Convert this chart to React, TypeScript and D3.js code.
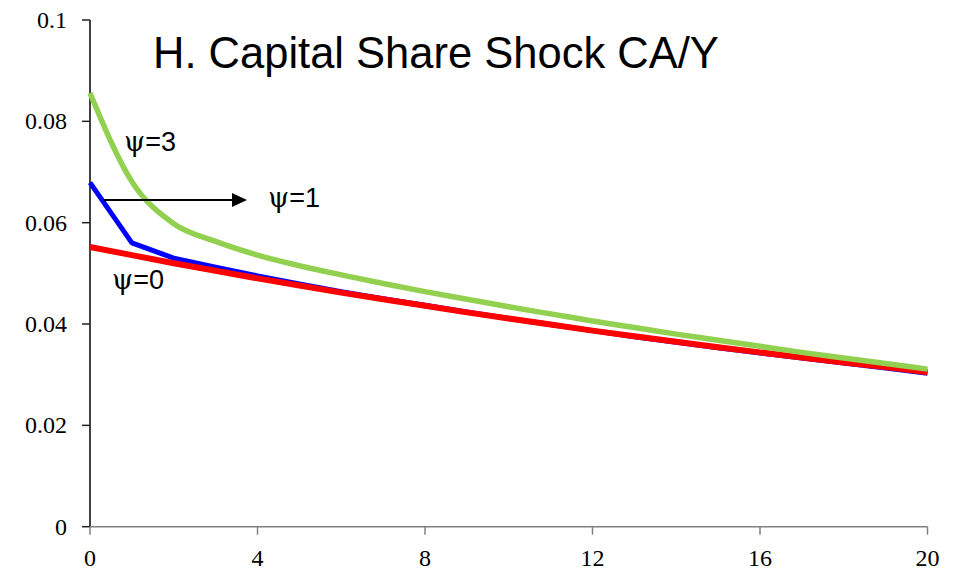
import React from "react";
import * as d3 from "d3";

const periods = [0, 1, 2, 3, 4, 5, 6, 7, 8, 9, 10, 11, 12, 13, 14, 15, 16, 17, 18, 19, 20];
const psi0 = [0.0552, 0.0536, 0.0520, 0.0505, 0.0490, 0.0476, 0.0462, 0.0449, 0.0436, 0.0423, 0.0411, 0.0399, 0.0387, 0.0376, 0.0365, 0.0354, 0.0344, 0.0334, 0.0324, 0.0315, 0.0305];
const psi1 = [0.0679, 0.0560, 0.0530, 0.0512, 0.0495, 0.0479, 0.0464, 0.0450, 0.0437, 0.0424, 0.0411, 0.0399, 0.0387, 0.0375, 0.0364, 0.0353, 0.0343, 0.0333, 0.0323, 0.0313, 0.0303];
const psi3 = [0.0856, 0.0681, 0.0598, 0.0563, 0.0536, 0.0515, 0.0497, 0.0480, 0.0464, 0.0449, 0.0434, 0.0420, 0.0406, 0.0393, 0.0380, 0.0368, 0.0356, 0.0344, 0.0333, 0.0322, 0.0311];
const xTicks = [0, 4, 8, 12, 16, 20];
const yTicks = [0, 0.02, 0.04, 0.06, 0.08, 0.1];
const yTickLabels = ["0", "0.02", "0.04", "0.06", "0.08", "0.1"];
const title = "H. Capital Share Shock CA/Y";

export default function App() {
  const W = 958, H = 570;
  const x = d3.scaleLinear().domain([0, 20]).range([90, 927.5]);
  const y = d3.scaleLinear().domain([0, 0.1]).range([526.7, 20]);
  const line = (vals: number[], curve: d3.CurveFactory) =>
    d3.line<number>().x((_, i) => x(periods[i])).y((v) => y(v)).curve(curve)(vals) || "";
  const serif = '"DejaVu Serif", "Liberation Serif", "Times New Roman", serif';
  const timesLike = '"Liberation Serif", "Times New Roman", Tinos, "DejaVu Serif", serif';
  const sans = '"Liberation Sans", Arial, sans-serif';
  const arrowY = y(0.0645);
  const psiLabel = (px: number, py: number, n: string) => (
    <text x={px} y={py} fontSize={27} fill="#000" fontFamily={sans}>
      <tspan fontFamily={serif} fontSize={27}>ψ</tspan>=
      {n}
    </text>
  );
  return (
    <svg width={W} height={H} style={{ position: "absolute", left: 0, top: 0, background: "#fff" }}>
      <rect x={0} y={0} width={W} height={H} fill="#fff" />
      {/* y axis */}
      <line x1={x(0)} x2={x(0)} y1={y(0.1)} y2={y(0)} stroke="#000" strokeWidth={1.5} />
      {yTicks.map((t, i) => (
        <g key={"yt" + i}>
          <line x1={x(0) - 8} x2={x(0)} y1={y(t)} y2={y(t)} stroke="#222" strokeWidth={1.5} />
          <text x={67} y={y(t) + 8} textAnchor="end" fontSize={24} fill="#000" fontFamily={timesLike}>
            {yTickLabels[i]}
          </text>
        </g>
      ))}
      {/* x axis */}
      <line x1={x(0)} x2={x(20)} y1={y(0)} y2={y(0)} stroke="#808080" strokeWidth={1.5} />
      {xTicks.map((t) => (
        <g key={"xt" + t}>
          <line x1={x(t)} x2={x(t)} y1={y(0)} y2={y(0) + 8} stroke="#808080" strokeWidth={1.5} />
          <text x={x(t)} y={566} textAnchor="middle" fontSize={24} fill="#000" fontFamily={timesLike}>
            {t}
          </text>
        </g>
      ))}
      {/* series */}
      <path d={line(psi1, d3.curveLinear)} fill="none" stroke="#0000FF" strokeWidth={5} strokeLinejoin="round" />
      <path d={line(psi0, d3.curveLinear)} fill="none" stroke="#FF0000" strokeWidth={6} strokeLinejoin="round" />
      <path d={line(psi3, d3.curveMonotoneX)} fill="none" stroke="#92D050" strokeWidth={5.5} strokeLinejoin="round" />
      {/* arrow */}
      <line x1={104} x2={233} y1={arrowY} y2={arrowY} stroke="#000" strokeWidth={2} />
      <path d={`M232,${arrowY - 7} L247,${arrowY} L232,${arrowY + 7} Z`} fill="#000" />
      {/* labels */}
      <text x={153} y={68} fontSize={43.5} fill="#000" fontFamily={sans}>{title}</text>
      {psiLabel(124, 151, "3")}
      {psiLabel(268, 207, "1")}
      {psiLabel(112, 289, "0")}
    </svg>
  );
}
